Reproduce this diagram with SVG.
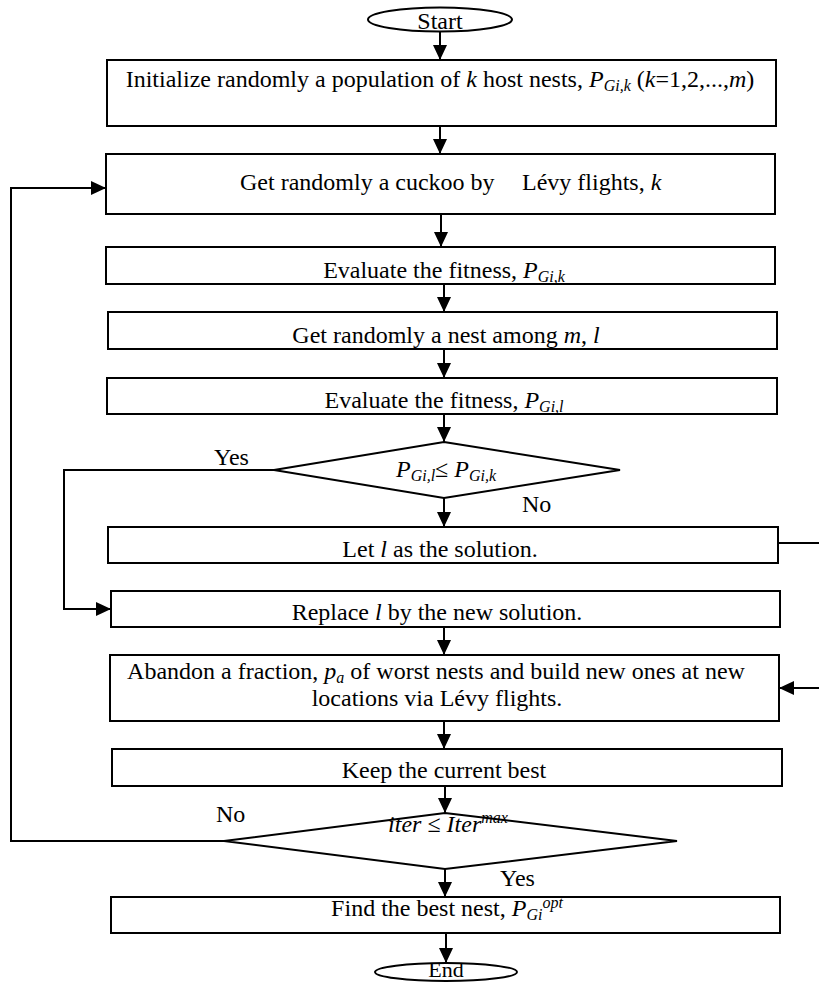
<svg xmlns="http://www.w3.org/2000/svg" width="819" height="983" viewBox="0 0 819 983">
<style>
.b{fill:#fff;stroke:#000;stroke-width:2}
.c{fill:none;stroke:#000;stroke-width:2}
text{font-family:"Liberation Serif","Times New Roman",serif;font-size:24px;fill:#000}
.m{text-anchor:middle}
.i{font-style:italic}
.s{font-size:16px}
</style>
<defs>
<marker id="ah" markerUnits="userSpaceOnUse" markerWidth="16" markerHeight="14" refX="15" refY="7" orient="auto">
<path d="M0,0 L15,7 L0,14 z" fill="#000"/>
</marker>
</defs>
<rect width="819" height="983" fill="#fff"/>
<g id="connectors" class="c">
<line x1="440" y1="32" x2="440" y2="60" marker-end="url(#ah)"/>
<line x1="440" y1="126" x2="440" y2="154" marker-end="url(#ah)"/>
<line x1="441" y1="214" x2="441" y2="247" marker-end="url(#ah)"/>
<line x1="444" y1="284" x2="444" y2="312" marker-end="url(#ah)"/>
<line x1="444" y1="349" x2="444" y2="378" marker-end="url(#ah)"/>
<line x1="444" y1="414" x2="444" y2="442" marker-end="url(#ah)"/>
<line x1="444" y1="498" x2="444" y2="527" marker-end="url(#ah)"/>
<line x1="444" y1="627" x2="444" y2="655" marker-end="url(#ah)"/>
<line x1="444" y1="721" x2="444" y2="749" marker-end="url(#ah)"/>
<line x1="445" y1="786" x2="445" y2="813" marker-end="url(#ah)"/>
<line x1="445" y1="869" x2="445" y2="897" marker-end="url(#ah)"/>
<line x1="446" y1="933" x2="446" y2="963" marker-end="url(#ah)"/>
<path d="M224,841 H11 V188 H106" marker-end="url(#ah)"/>
<path d="M274,470 H64 V609 H111" marker-end="url(#ah)"/>
<path d="M778,543 H835 V688 H779" marker-end="url(#ah)"/>
</g>
<g id="start">
<ellipse class="b" cx="440" cy="19.5" rx="72" ry="12"/>
<text class="m" x="440" y="29">Start</text>
</g>
<g id="init">
<rect class="b" x="107" y="60" width="669" height="66"/>
<text class="m" x="440" y="87">Initialize randomly a population of <tspan class="i">k</tspan> host nests, <tspan class="i">P</tspan><tspan class="i s" dy="4">Gi,k</tspan><tspan dy="-4"> (</tspan><tspan class="i">k</tspan>=1,2,...,<tspan class="i">m</tspan>)</text>
</g>
<g id="cuckoo">
<rect class="b" x="106" y="154" width="669" height="60"/>
<text x="240" y="190">Get randomly a cuckoo by<tspan x="522">Lévy flights, </tspan><tspan class="i">k</tspan></text>
</g>
<g id="evalk">
<rect class="b" x="106" y="247" width="669" height="37"/>
<text class="m" x="444" y="278">Evaluate the fitness, <tspan class="i">P</tspan><tspan class="i s" dy="4">Gi,k</tspan></text>
</g>
<g id="nest">
<rect class="b" x="108" y="312" width="669" height="37"/>
<text class="m" x="446" y="343">Get randomly a nest among <tspan class="i">m</tspan>, <tspan class="i">l</tspan></text>
</g>
<g id="evall">
<rect class="b" x="107" y="378" width="670" height="36"/>
<text class="m" x="444" y="408">Evaluate the fitness, <tspan class="i">P</tspan><tspan class="i s" dy="4">Gi,l</tspan></text>
</g>
<g id="cond1">
<polygon class="b" points="444,442 620,470 444,498 274,470"/>
<text class="m" x="446" y="477"><tspan class="i">P</tspan><tspan class="i s" dy="4">Gi,l</tspan><tspan dy="-4">≤ </tspan><tspan class="i">P</tspan><tspan class="i s" dy="4">Gi,k</tspan></text>
</g>
<g id="labels">
<text x="214" y="465">Yes</text>
<text x="522" y="512">No</text>
<text x="216" y="822">No</text>
<text x="500" y="886">Yes</text>
</g>
<g id="let">
<rect class="b" x="108" y="527" width="670" height="36"/>
<text class="m" x="440" y="557">Let <tspan class="i">l</tspan> as the solution.</text>
</g>
<g id="replace">
<rect class="b" x="111" y="591" width="669" height="36"/>
<text class="m" x="437" y="620">Replace <tspan class="i">l</tspan> by the new solution.</text>
</g>
<g id="abandon">
<rect class="b" x="110" y="655" width="669" height="66"/>
<text class="m" x="436" y="679">Abandon a fraction, <tspan class="i">p</tspan><tspan class="i s" dy="4">a</tspan><tspan dy="-4"> of worst nests and build new ones at new</tspan></text>
<text class="m" x="437" y="706">locations via Lévy flights.</text>
</g>
<g id="keep">
<rect class="b" x="112" y="749" width="670" height="37"/>
<text class="m" x="444" y="778">Keep the current best</text>
</g>
<g id="cond2">
<polygon class="b" points="445,813 677,841 445,869 224,841"/>
<text class="m" x="448" y="832"><tspan class="i">iter</tspan> ≤ <tspan class="i">Iter</tspan><tspan class="i s" dy="-9">max</tspan></text>
</g>
<g id="find">
<rect class="b" x="111" y="897" width="669" height="36"/>
<text class="m" x="447" y="916">Find the best nest, <tspan class="i">P</tspan><tspan class="i s" dy="4">Gi</tspan><tspan class="i s" dy="-12">opt</tspan></text>
</g>
<g id="end">
<ellipse class="b" cx="446" cy="972" rx="71" ry="9"/>
<text class="m" x="446" y="977" style="font-size:22px">End</text>
</g>
</svg>
